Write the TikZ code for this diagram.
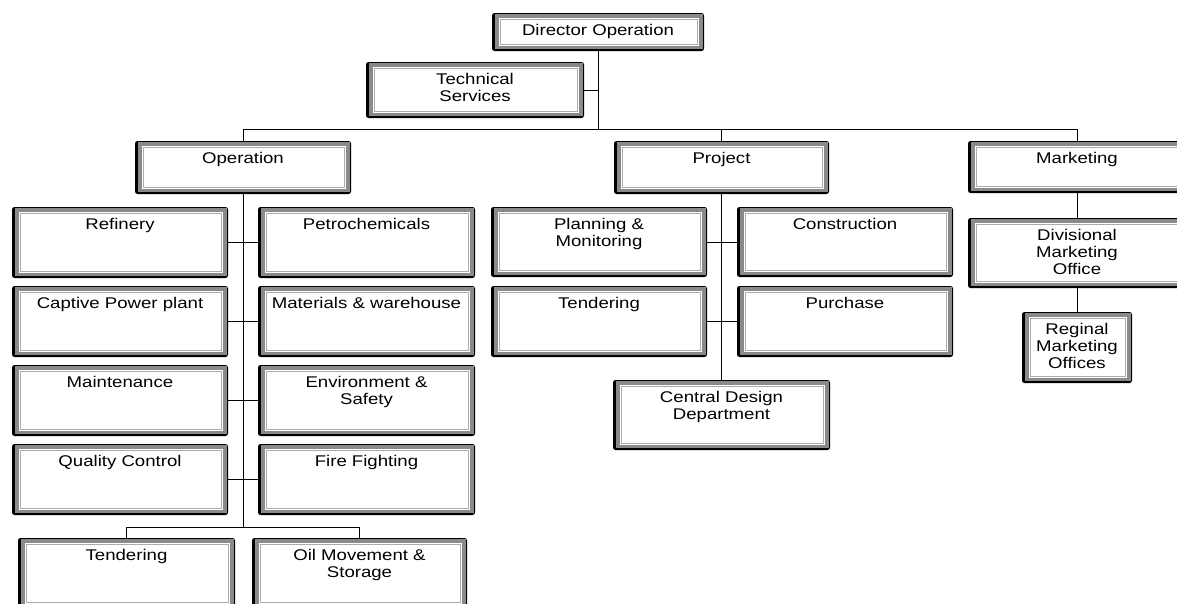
\documentclass[tikz,border=0pt]{standalone}
\usepackage{fontspec}
\setmainfont{Liberation Sans}[FakeStretch=1.2]
\definecolor{frame}{HTML}{8A8A8A}
\definecolor{inner}{HTML}{ABABAB}
\tikzset{
  box/.style={inner sep=0pt, outer sep=0pt, fill=black, rounded corners=2.5pt,
    path picture={
      \fill[frame, sharp corners] ([shift={(3.2pt,-1.2pt)}]path picture bounding box.north west) rectangle ([shift={(-1.2pt,2pt)}]path picture bounding box.south east);
      \fill[white, sharp corners] ([shift={(7pt,-5pt)}]path picture bounding box.north west) rectangle ([shift={(-5pt,5pt)}]path picture bounding box.south east);
      \draw[inner, line width=0.8pt, sharp corners] ([shift={(8.5pt,-6.5pt)}]path picture bounding box.north west) rectangle ([shift={(-6.5pt,6.5pt)}]path picture bounding box.south east);
    }},
  conn/.style={draw=black, line width=0.9pt}
}
\newcommand\bx[6]{\node[box, minimum width=#4pt, minimum height=#5pt] (#1) at (#2,#3)
  {\parbox[c][#5pt][t]{#4pt}{\centering\fontsize{15.5}{17}\selectfont\rule{0pt}{22.5pt}#6\par}};}
\begin{document}
\begin{tikzpicture}[x=1pt, y=-1pt]
\clip (0,0) rectangle (1177,603);
\fill[white] (0,0) rectangle (1177,603);
% top
\bx{dir}{598}{32}{212}{38}{Director Operation}
\bx{ts}{475}{90}{218}{56}{Technical\\Services}
\bx{op}{243}{167.5}{216}{53}{Operation}
\bx{pr}{721.5}{167.5}{215}{53}{Project}
\bx{mk}{1077}{167}{218}{52}{Marketing}
% operation children
\bx{ref}{120}{242.5}{216}{71}{Refinery}
\bx{pet}{366.5}{242.5}{217}{71}{Petrochemicals}
\bx{cap}{120}{321.5}{216}{71}{Captive Power plant}
\bx{mat}{366.5}{321.5}{217}{71}{Materials \& warehouse}
\bx{mnt}{120}{400.5}{216}{71}{Maintenance}
\bx{env}{366.5}{400.5}{217}{71}{Environment \&\\Safety}
\bx{qc}{120}{479.5}{216}{71}{Quality Control}
\bx{ff}{366.5}{479.5}{217}{71}{Fire Fighting}
\bx{oten}{126.5}{573.5}{217}{71}{Tendering}
\bx{oil}{359.5}{573.5}{215}{71}{Oil Movement \&\\Storage}
% project children
\bx{plan}{599}{242}{216}{70}{Planning \&\\Monitoring}
\bx{cons}{845}{242}{216}{70}{Construction}
\bx{pten}{599}{321.5}{216}{71}{Tendering}
\bx{pur}{845}{321.5}{216}{71}{Purchase}
\bx{cdd}{721.5}{415}{217}{70}{Central Design\\Department}
% marketing children
\bx{div}{1077}{253}{218}{70}{Divisional\\Marketing\\Office}
\bx{reg}{1077}{347.5}{110}{71}{Reginal\\Marketing\\Offices}
% connectors
\coordinate (bus) at (0,129);
\coordinate (obus) at (0,527);
\draw[conn] (dir.south) -- (dir.south |- bus);
\draw[conn] (ts.east) -- (ts.east -| dir.south);
\draw[conn] (op.north) -- (op.north |- bus) -- (mk.north |- bus) -- (mk.north);
\draw[conn] (pr.north) -- (pr.north |- bus);
% operation
\draw[conn] (op.south) -- (op.south |- obus);
\draw[conn] (oten.north) -- (oten.north |- obus) -- (oil.north |- obus) -- (oil.north);
\draw[conn] (ref.east) -- (pet.west);
\draw[conn] (cap.east) -- (mat.west);
\draw[conn] (mnt.east) -- (env.west);
\draw[conn] (qc.east) -- (ff.west);
% project
\draw[conn] (pr.south) -- (cdd.north);
\draw[conn] (plan.east) -- (cons.west);
\draw[conn] (pten.east) -- (pur.west);
% marketing
\draw[conn] (mk.south) -- (div.north);
\draw[conn] (div.south) -- (reg.north);
\end{tikzpicture}
\end{document}
